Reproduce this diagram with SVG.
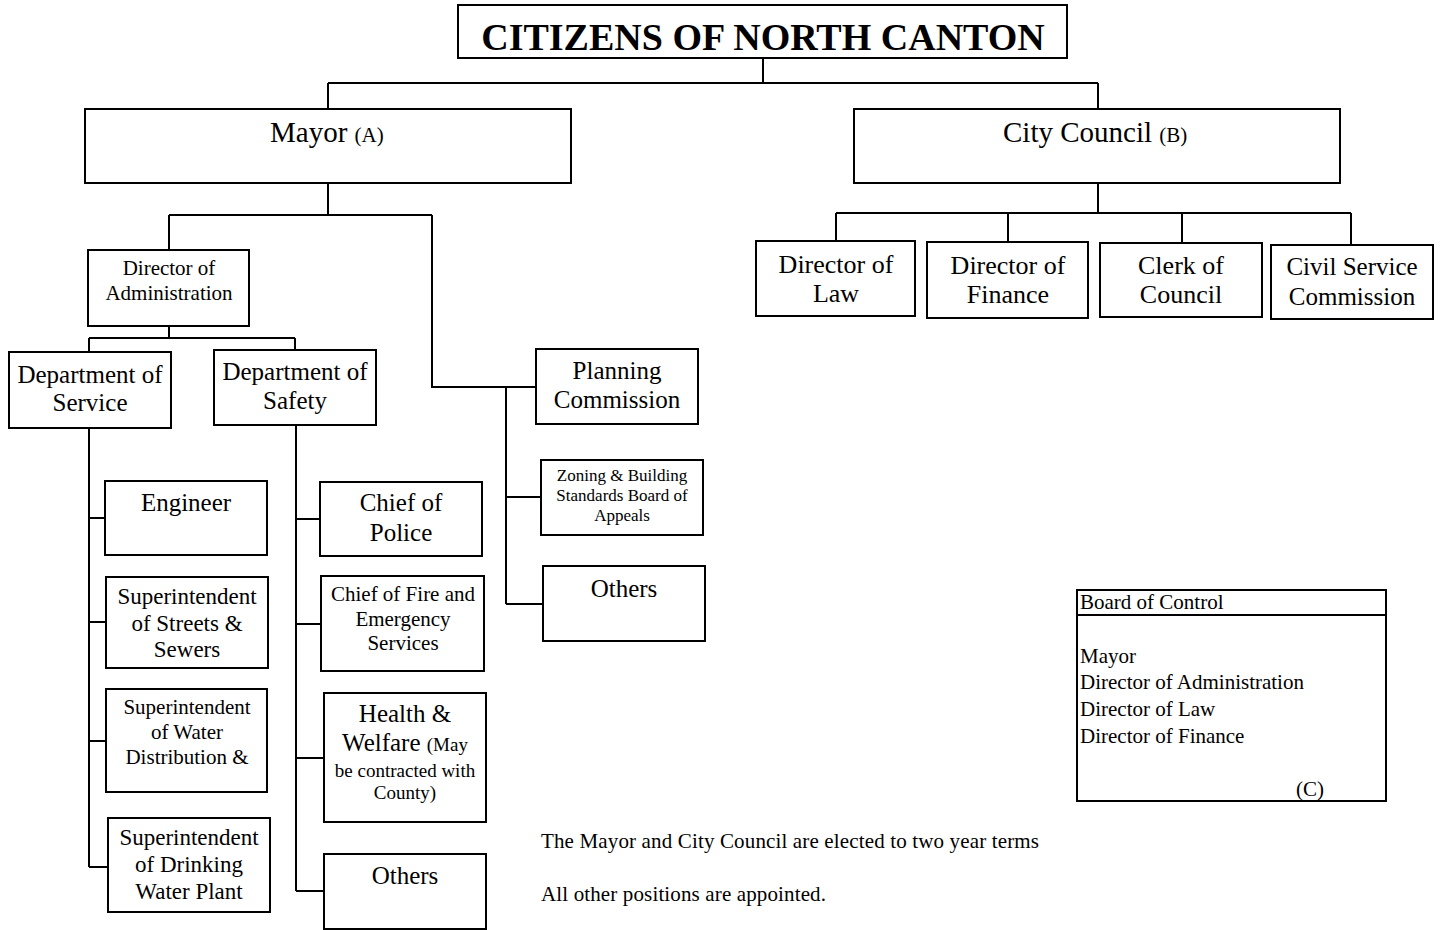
<svg xmlns="http://www.w3.org/2000/svg" width="1441" height="930" viewBox="0 0 1441 930">
<style>
rect.box{fill:#fff;stroke:#000;stroke-width:2}
.conn path{fill:none;stroke:#000;stroke-width:2}
text{font-family:"Liberation Serif","Times New Roman",serif;fill:#000}
.c{text-anchor:middle}
</style>
<rect width="1441" height="930" fill="#fff"/>
<g id="connectors" class="conn">
<path d="M763 58V83M328 83H1098M328 83V109M1098 83V109"/>
<path d="M328 183V215M169 215H432M169 215V250M432 215V387H536"/>
<path d="M169 326V338M89 338H295M89 338V352M295 338V350"/>
<path d="M89 428V867M89 518H105M89 622H106M89 741H106M89 867H108"/>
<path d="M296 425V891M296 519H320M296 624H321M296 758H324M296 891H324"/>
<path d="M506 387V604M506 497H541M506 604H543"/>
<path d="M1098 183V213M836 213H1351M836 213V241M1008 213V242M1182 213V243M1351 213V245"/>
</g>
<g id="citizens"><rect class="box" x="458" y="5" width="609" height="53"/><text class="c" x="763" y="50" font-size="38" font-weight="bold">CITIZENS OF NORTH CANTON</text></g>
<g id="mayor"><rect class="box" x="85" y="109" width="486" height="74"/><text x="270" y="142" font-size="29">Mayor <tspan font-size="21">(A)</tspan></text></g>
<g id="council"><rect class="box" x="854" y="109" width="486" height="74"/><text x="1003" y="142" font-size="29">City Council <tspan font-size="21">(B)</tspan></text></g>
<g id="dir-admin"><rect class="box" x="88" y="250" width="161" height="76"/><text class="c" x="169" y="275" font-size="21">Director of</text><text class="c" x="169" y="300" font-size="21">Administration</text></g>
<g id="dept-service"><rect class="box" x="9" y="352" width="162" height="76"/><text class="c" x="90" y="383" font-size="25">Department of</text><text class="c" x="90" y="411" font-size="25">Service</text></g>
<g id="dept-safety"><rect class="box" x="214" y="350" width="162" height="75"/><text class="c" x="295" y="380" font-size="25">Department of</text><text class="c" x="295" y="409" font-size="25">Safety</text></g>
<g id="planning"><rect class="box" x="536" y="349" width="162" height="75"/><text class="c" x="617" y="379" font-size="25">Planning</text><text class="c" x="617" y="408" font-size="25">Commission</text></g>
<g id="zoning"><rect class="box" x="541" y="460" width="162" height="75"/><text class="c" x="622" y="481" font-size="17">Zoning &amp; Building</text><text class="c" x="622" y="501" font-size="17">Standards Board of</text><text class="c" x="622" y="521" font-size="17">Appeals</text></g>
<g id="others-planning"><rect class="box" x="543" y="566" width="162" height="75"/><text class="c" x="624" y="597" font-size="25">Others</text></g>
<g id="engineer"><rect class="box" x="105" y="481" width="162" height="74"/><text class="c" x="186" y="511" font-size="25">Engineer</text></g>
<g id="streets"><rect class="box" x="106" y="577" width="162" height="91"/><text class="c" x="187" y="604" font-size="23">Superintendent</text><text class="c" x="187" y="631" font-size="23">of Streets &amp;</text><text class="c" x="187" y="657" font-size="23">Sewers</text></g>
<g id="water-dist"><rect class="box" x="106" y="689" width="161" height="103"/><text class="c" x="187" y="714" font-size="21">Superintendent</text><text class="c" x="187" y="739" font-size="21">of Water</text><text class="c" x="187" y="764" font-size="21">Distribution &amp;</text></g>
<g id="drinking"><rect class="box" x="108" y="818" width="162" height="94"/><text class="c" x="189" y="845" font-size="23">Superintendent</text><text class="c" x="189" y="872" font-size="23">of Drinking</text><text class="c" x="189" y="899" font-size="23">Water Plant</text></g>
<g id="police"><rect class="box" x="320" y="482" width="162" height="74"/><text class="c" x="401" y="511" font-size="25">Chief of</text><text class="c" x="401" y="541" font-size="25">Police</text></g>
<g id="fire"><rect class="box" x="321" y="576" width="163" height="95"/><text class="c" x="403" y="601" font-size="21">Chief of Fire and</text><text class="c" x="403" y="626" font-size="21">Emergency</text><text class="c" x="403" y="650" font-size="21">Services</text></g>
<g id="health"><rect class="box" x="324" y="693" width="162" height="129"/><text class="c" x="405" y="722" font-size="25">Health &amp;</text><text class="c" x="405" y="751" font-size="25">Welfare <tspan font-size="19">(May</tspan></text><text class="c" x="405" y="777" font-size="19">be contracted with</text><text class="c" x="405" y="799" font-size="19">County)</text></g>
<g id="others-safety"><rect class="box" x="324" y="854" width="162" height="75"/><text class="c" x="405" y="884" font-size="25">Others</text></g>
<g id="dir-law"><rect class="box" x="756" y="241" width="159" height="75"/><text class="c" x="836" y="273" font-size="26">Director of</text><text class="c" x="836" y="302" font-size="26">Law</text></g>
<g id="dir-finance"><rect class="box" x="927" y="242" width="161" height="76"/><text class="c" x="1008" y="274" font-size="26">Director of</text><text class="c" x="1008" y="303" font-size="26">Finance</text></g>
<g id="clerk"><rect class="box" x="1100" y="243" width="162" height="74"/><text class="c" x="1181" y="274" font-size="26">Clerk of</text><text class="c" x="1181" y="303" font-size="26">Council</text></g>
<g id="civil"><rect class="box" x="1271" y="245" width="162" height="74"/><text class="c" x="1352" y="275" font-size="25">Civil Service</text><text class="c" x="1352" y="305" font-size="25">Commission</text></g>
<g id="board"><rect class="box" x="1077" y="590" width="309" height="211"/><path d="M1077 615H1386" stroke="#000" stroke-width="2"/>
<text x="1080" y="609" font-size="21">Board of Control</text>
<text x="1080" y="663" font-size="21">Mayor</text>
<text x="1080" y="689" font-size="21">Director of Administration</text>
<text x="1080" y="716" font-size="21">Director of Law</text>
<text x="1080" y="743" font-size="21">Director of Finance</text>
<text x="1296" y="796" font-size="21">(C)</text></g>
<g id="notes"><text x="541" y="848" font-size="21" textLength="498" lengthAdjust="spacing">The Mayor and City Council are elected to two year terms</text><text x="541" y="901" font-size="21" textLength="285" lengthAdjust="spacing">All other positions are appointed.</text></g>
</svg>
